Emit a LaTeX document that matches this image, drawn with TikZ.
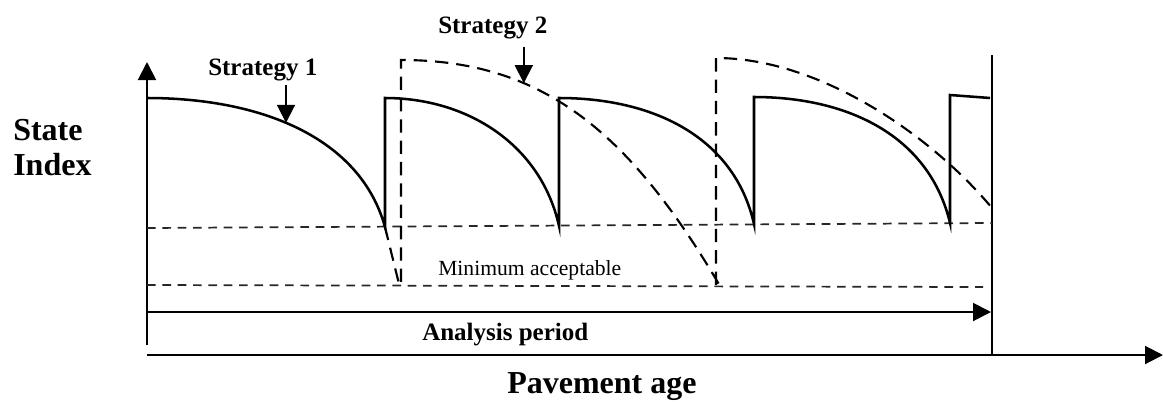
\documentclass[tikz,border=0pt]{standalone}
\usepackage{fontspec}
\setmainfont{Liberation Serif}
\usetikzlibrary{arrows.meta}

\begin{document}
\begin{tikzpicture}[x=0.75pt, y=-0.75pt,
  axisline/.style={line width=1.5pt},
  bighead/.style={-{Triangle[length=13.5pt,width=13.5pt]}},
  solidcurve/.style={line width=1.9pt, line join=miter},
  dashcurve/.style={line width=1.6pt, dash pattern=on 10pt off 6pt},
  limitline/.style={line width=1.3pt, black!85, dash pattern=on 6.5pt off 5pt},
  boldlabel/.style={font=\bfseries\fontsize{18.75}{22}\selectfont, inner sep=0pt, anchor=base west},
  biglabel/.style={font=\bfseries\fontsize{24}{27}\selectfont, inner sep=0pt, anchor=base west},
  minlabel/.style={font=\fontsize{16.2}{19}\selectfont, inner sep=0pt, anchor=base west}
]
\useasboundingbox (0,0) rectangle (1163,401);

% axes and frame points
\coordinate (ybot) at (147,345);
\coordinate (ytop) at (147,62);
\coordinate (origin) at (147,355);
\coordinate (xend) at (1163,355);
\coordinate (endbot) at (992,355);
\coordinate (endtop) at (992,55);
\coordinate (apstart) at (147,312);
\coordinate (apend) at (991,312);

\draw[axisline,bighead] (ybot) -- (ytop);
\draw[axisline,bighead] (origin) -- (xend);
\draw[axisline] (endbot) -- (endtop);
\draw[axisline,bighead] (apstart) -- (apend);

% threshold levels
\draw[limitline] (147,228) -- (992,223);
\draw[limitline] (147,285) -- (983,287);

% strategy 1: frequent treatments
\draw[solidcurve] (147,98) .. controls (260,98) and (360,137) .. (385,227)
    coordinate[pos=0.45] (s1pt)
  -- (385,98) .. controls (468,98) and (541,145) .. (559,226)
  -- (559,98) .. controls (652,98) and (734,136) .. (754,224)
  -- (754,97) .. controls (847,97) and (929,135) .. (950,223)
  -- (950,95) -- (990,98);

% strategy 2: heavier, less frequent treatments
\draw[dashcurve] (385,227) -- (399,284) -- (401,285) -- (401,60)
  .. controls (540,60) and (627.5,128.5) .. (720,286)
    coordinate[pos=0.33] (s2pt)
  -- (716,286) -- (716,58)
  .. controls (820,58) and (932,136) .. (992,208);

% labels
\node[biglabel] (state) at (13,140) {State};
\node[biglabel] (index) at (13,175) {Index};
\node[biglabel] (age) at (507,393) {Pavement age};
\node[boldlabel] (ap) at (422,340) {Analysis period};
\node[minlabel] (minacc) at (438,275) {Minimum acceptable};
\node[boldlabel] (s1) at (208,75) {Strategy 1};
\node[boldlabel] (s2) at (438,33) {Strategy 2};

% pointers from strategy labels to their curves
\coordinate (s1top) at (0,85);
\coordinate (s2top) at (0,47);
\draw[axisline,bighead] (s1pt |- s1top) -- (s1pt);
\draw[axisline,bighead] (s2pt |- s2top) -- (s2pt);
\end{tikzpicture}
\end{document}
